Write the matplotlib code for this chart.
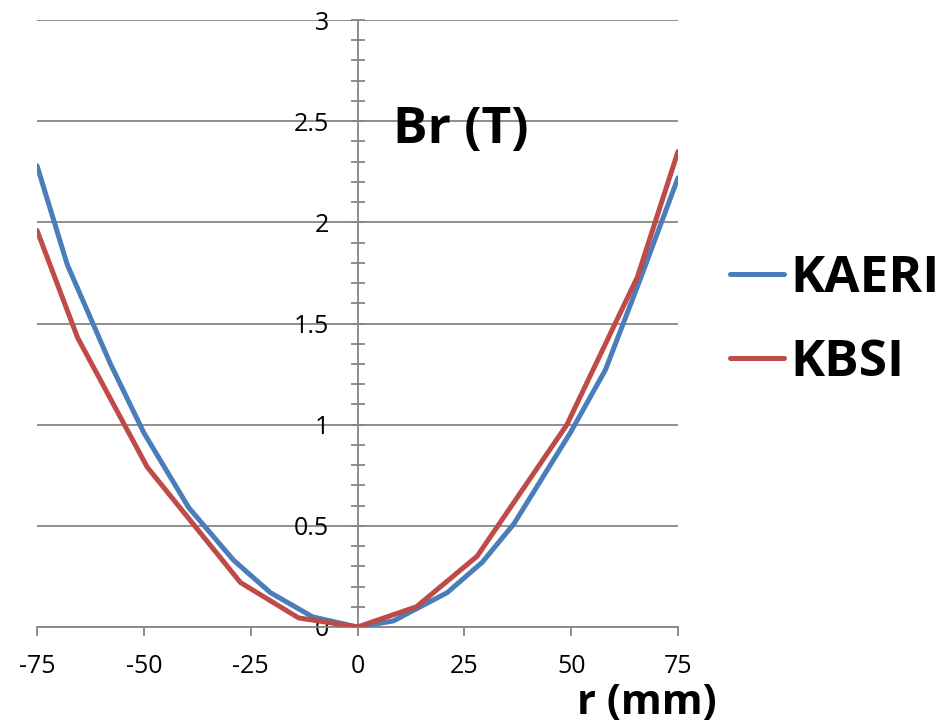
import matplotlib
matplotlib.use("Agg")
import matplotlib.pyplot as plt
from matplotlib.ticker import MultipleLocator

plt.rcParams['font.family'] = ['Open Sans', 'DejaVu Sans']

# Data
kaeri_r = [-75, -67.9, -57.8, -50, -39.5, -29, -20.4, -10.5, 0, 8.4, 21, 29.2, 36.6, 49.8, 58, 66, 75]
kaeri_br = [2.28, 1.79, 1.30, 0.96, 0.59, 0.33, 0.17, 0.05, 0, 0.03, 0.17, 0.32, 0.51, 0.96, 1.27, 1.71, 2.22]

kbsi_r = [-75, -65.5, -49.2, -27.4, -13.8, 0, 13.8, 28, 49, 65.5, 75]
kbsi_br = [1.96, 1.43, 0.79, 0.22, 0.045, 0, 0.10, 0.35, 1.0, 1.73, 2.35]

xticks = [-75, -50, -25, 0, 25, 50, 75]
xtick_labels = ['-75', '-50', '-25', '0', '25', '50', '75']
yticks = [0, 0.5, 1, 1.5, 2, 2.5, 3]
ytick_labels = ['0', '0.5', '1', '1.5', '2', '2.5', '3']

blue = '#4A7EBB'
red = '#BE4B48'
gray = '#868686'

W, H = 951, 727
fig = plt.figure(figsize=(W / 100, H / 100), dpi=100)
ax = fig.add_axes([37 / W, (H - 627) / H, 641 / W, 607 / H])

ax.plot(kaeri_r, kaeri_br, color=blue, lw=3.6, solid_joinstyle='round',
        solid_capstyle='round', label='KAERI', zorder=3)
ax.plot(kbsi_r, kbsi_br, color=red, lw=3.6, solid_joinstyle='round',
        solid_capstyle='round', label='KBSI', zorder=4)

ax.set_xlim(-75, 75)
ax.set_ylim(0, 3)

for s in ['top', 'right']:
    ax.spines[s].set_visible(False)
ax.spines['left'].set_position(('data', 0))
ax.spines['left'].set_color(gray)
ax.spines['left'].set_linewidth(1.3)
ax.spines['bottom'].set_color(gray)
ax.spines['bottom'].set_linewidth(1.3)

ax.set_xticks(xticks)
ax.set_xticklabels(xtick_labels)
ax.set_yticks(yticks)
ax.set_yticklabels(ytick_labels)
ax.yaxis.set_minor_locator(MultipleLocator(0.1))

ax.tick_params(axis='x', direction='out', length=6.5, width=1.3, color=gray,
               labelsize=18, pad=13, labelcolor='black')
ax.tick_params(axis='y', which='both', direction='inout', length=9.4, width=1.3,
               color=gray, labelsize=18, pad=16, labelcolor='black')

ax.grid(axis='y', which='major', color=gray, lw=1.3, zorder=1)
ax.set_axisbelow(True)

fig.text(393 / W, 1 - 130 / H, 'Br (T)', fontsize=37, fontweight='bold',
         ha='left', va='center')
fig.text(577 / W, 1 - 704 / H, 'r (mm)', fontsize=30, fontweight='bold',
         ha='left', va='center')

leg = fig.legend(loc='center left', bbox_to_anchor=(730 / W, 1 - 321 / H),
                 frameon=False, prop={'size': 37, 'weight': 'bold'},
                 handlelength=1.05, handletextpad=0.12, labelspacing=0.67,
                 borderpad=0, borderaxespad=0)

fig.savefig('out.png', dpi=100)
